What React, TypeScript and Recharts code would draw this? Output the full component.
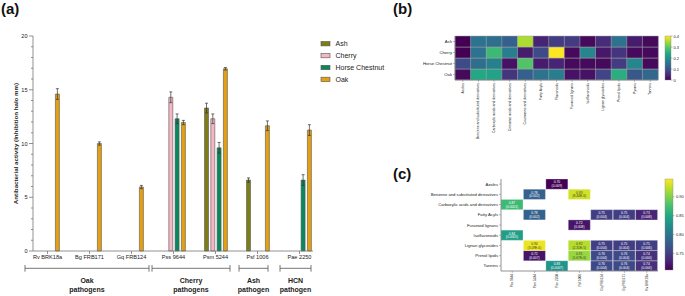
import React from 'react';
import { BarChart, Bar, XAxis, YAxis, ErrorBar, Cell, LabelList } from 'recharts';

const FONT = '"Liberation Sans", Arial, Helvetica, sans-serif';
const AXIS = '#767676';
const INK = '#222222';

// ---------------- (a) antibacterial activity ----------------
const pathogens = ['Rv BRK18a', 'Bg FRB171', 'Gq FRB124', 'Pss 9644', 'Psm 5244', 'Psf 1006', 'Pae 2250'];
const ashActivity = [null, null, null, null, 13.3, 6.6, null];
const ashError = [null, null, null, null, 0.45, 0.2, null];
const cherryActivity = [null, null, null, 14.3, 12.3, null, null];
const cherryError = [null, null, null, 0.5, 0.45, null, null];
const horseChestnutActivity = [null, null, null, 12.3, 9.6, null, 6.6];
const horseChestnutError = [null, null, null, 0.45, 0.5, null, 0.5];
const oakActivity = [14.6, 10.0, 5.95, 11.95, 16.95, 11.65, 11.25];
const oakError = [0.5, 0.15, 0.15, 0.2, 0.12, 0.45, 0.5];
const activityTicks = [0, 1, 2, 3, 4, 5, 6, 7, 8, 9, 10, 11, 12, 13, 14, 15, 16, 17, 18, 19, 20];
const pathogenGroups = [
  { top: 'Oak', bottom: 'pathogens', x1: 25, x2: 149 },
  { top: 'Cherry', bottom: 'pathogens', x1: 152, x2: 230 },
  { top: 'Ash', bottom: 'pathogen', x1: 239, x2: 268 },
  { top: 'HCN', bottom: 'pathogen', x1: 280, x2: 311 },
];

const SPECIES_COLORS: Record<string, string> = {
  Ash: '#7d7d16',
  Cherry: '#f6b7c4',
  'Horse Chestnut': '#07895c',
  Oak: '#e3a012',
};

// ---------------- (b) relative abundance heatmap ----------------
const compoundClasses = [
  'Azoles',
  'Benzene and substituted derivatives',
  'Carboxylic acids and derivatives',
  'Cinnamic acids and derivatives',
  'Coumarins and derivatives',
  'Fatty Acyls',
  'Flavonoids',
  'Furanoid lignans',
  'Isoflavonoids',
  'Lignan glycosides',
  'Prenol lipids',
  'Pyrans',
  'Tannins',
];
const treeSpecies = ['Ash', 'Cherry', 'Horse Chestnut', 'Oak'];
const ashShare = [0.0, 0.15, 0.145, 0.12, 0.35, 0.04, 0.07, 0.07, 0.01, 0.05, 0.15, 0.03, 0.01];
const cherryShare = [0.0, 0.15, 0.27, 0.17, 0.03, 0.09, 0.4, 0.01, 0.18, 0.025, 0.06, 0.01, 0.01];
const horseChestnutShare = [0.09, 0.145, 0.175, 0.02, 0.29, 0.03, 0.04, 0.01, 0.01, 0.01, 0.07, 0.18, 0.01];
const oakShare = [0.01, 0.24, 0.23, 0.06, 0.12, 0.15, 0.17, 0.02, 0.02, 0.08, 0.25, 0.11, 0.135];
const shareTicks = [0, 0.1, 0.2, 0.3, 0.4];

// ---------------- (c) correlation heatmap ----------------
const strains = ['Pss 9644', 'Psm 5244', 'Pae 2250', 'Psf 1006', 'Gq FRB124', 'Bg FRB171', 'Rv BRK18a'];
const chemClasses = [
  'Azoles',
  'Benzene and substituted derivatives',
  'Carboxylic acids and derivatives',
  'Fatty Acyls',
  'Furanoid lignans',
  'Isoflavonoids',
  'Lignan glycosides',
  'Prenol lipids',
  'Tannins',
];
const azolesAuc = [null, null, 0.70, null, null, null, null];
const azolesP = [null, null, '0.009', null, null, null, null];
const benzeneAuc = [null, 0.78, null, 0.93, null, null, null];
const benzeneP = [null, '0.002', null, '8.44E-6', null, null, null];
const carboxylicAuc = [0.87, null, null, null, null, null, null];
const carboxylicP = ['0.0001', null, null, null, null, null, null];
const fattyAcylsAuc = [null, 0.78, null, null, 0.75, 0.75, 0.73];
const fattyAcylsP = [null, '0.002', null, null, '0.004', '0.004', '0.008'];
const furanoidAuc = [null, null, null, 0.72, null, null, null];
const furanoidP = [null, null, null, '0.008', null, null, null];
const isoflavonoidsAuc = [0.84, null, null, null, null, null, null];
const isoflavonoidsP = ['0.0005', null, null, null, null, null, null];
const lignanAuc = [null, 0.94, null, 0.92, 0.75, 0.75, 0.75];
const lignanP = [null, '3.09E-6', null, '2.31E-5', '0.004', '0.004', '0.006'];
const prenolAuc = [null, 0.72, null, 0.91, 0.76, 0.76, 0.74];
const prenolP = [null, '0.007', null, '5.67E-6', '0.004', '0.004', '0.004'];
const tanninsAuc = [null, null, 0.83, null, 0.76, 0.76, 0.74];
const tanninsP = [null, null, '0.0007', null, '0.004', '0.004', '0.004'];
const aucTicks = [0.75, 0.8, 0.85, 0.9];
const AUC_MIN = 0.706;
const AUC_MAX = 0.947;

// ---------------- helpers ----------------
const VIRIDIS = ['#440154', '#482475', '#414487', '#355f8d', '#2a788e', '#21918c', '#22a884', '#44bf70', '#7ad151', '#bddf26', '#fde725'];
function hexToRgb(h: string) {
  return [parseInt(h.slice(1, 3), 16), parseInt(h.slice(3, 5), 16), parseInt(h.slice(5, 7), 16)];
}
function viridis(t: number) {
  const c = Math.max(0, Math.min(1, t));
  const s = c * 10;
  const i = Math.min(9, Math.floor(s));
  const f = s - i;
  const a = hexToRgb(VIRIDIS[i]);
  const b = hexToRgb(VIRIDIS[i + 1]);
  const m = a.map((v, k) => Math.round(v + (b[k] - v) * f));
  return `rgb(${m[0]},${m[1]},${m[2]})`;
}

const activityRows = pathogens.map((name, i) => ({
  name,
  Ash: ashActivity[i],
  ashErr: ashError[i],
  Cherry: cherryActivity[i],
  cherryErr: cherryError[i],
  'Horse Chestnut': horseChestnutActivity[i],
  hcErr: horseChestnutError[i],
  Oak: oakActivity[i],
  oakErr: oakError[i],
}));

const shareBySpecies: Record<string, number[]> = {
  Ash: ashShare,
  Cherry: cherryShare,
  'Horse Chestnut': horseChestnutShare,
  Oak: oakShare,
};
const classRows = compoundClasses.map((name) => {
  const row: any = { name };
  treeSpecies.forEach((s) => (row[s] = 1));
  return row;
});

const aucByClass: Record<string, (number | null)[]> = {
  Azoles: azolesAuc,
  'Benzene and substituted derivatives': benzeneAuc,
  'Carboxylic acids and derivatives': carboxylicAuc,
  'Fatty Acyls': fattyAcylsAuc,
  'Furanoid lignans': furanoidAuc,
  Isoflavonoids: isoflavonoidsAuc,
  'Lignan glycosides': lignanAuc,
  'Prenol lipids': prenolAuc,
  Tannins: tanninsAuc,
};
const pByClass: Record<string, (string | null)[]> = {
  Azoles: azolesP,
  'Benzene and substituted derivatives': benzeneP,
  'Carboxylic acids and derivatives': carboxylicP,
  'Fatty Acyls': fattyAcylsP,
  'Furanoid lignans': furanoidP,
  Isoflavonoids: isoflavonoidsP,
  'Lignan glycosides': lignanP,
  'Prenol lipids': prenolP,
  Tannins: tanninsP,
};
const strainRows = strains.map((name, j) => {
  const row: any = { name };
  chemClasses.forEach((c) => {
    row[c] = 1;
    const v = aucByClass[c][j];
    row['lbl_' + c] = v == null ? '' : `${v.toFixed(2)}|${pByClass[c][j]}`;
  });
  return row;
});

// ---------------- small renderers ----------------
const ActivityTick = (props: any) => {
  const { x, y, payload } = props;
  const major = payload.value % 5 === 0;
  return (
    <g>
      <line x1={x - (major ? 4 : 2)} x2={x} y1={y} y2={y} stroke={AXIS} strokeWidth={0.8} />
      {major && (
        <text x={x - 5.5} y={y} textAnchor="end" dominantBaseline="central" fontSize={5.6} fill={INK} fontFamily={FONT}>
          {payload.value}
        </text>
      )}
    </g>
  );
};

const RotatedTick = (props: any) => {
  const { x, y, payload, size } = props;
  return (
    <text
      x={x}
      y={y}
      transform={`rotate(-90 ${x} ${y})`}
      textAnchor="end"
      dominantBaseline="central"
      fontSize={size}
      fill={INK}
      fontFamily={FONT}
    >
      {payload.value}
    </text>
  );
};

const RowTick = (props: any) => {
  const { x, y, payload, size, names, count } = props;
  const label = names[count - 1 - Math.floor(payload.value)];
  return (
    <text x={x} y={y} textAnchor="end" dominantBaseline="central" fontSize={size} fill={INK} fontFamily={FONT}>
      {label}
    </text>
  );
};

const renderAucLabel = (p: any) => {
  const value = p.value;
  if (!value) return null;
  const box = p.viewBox && p.viewBox.width != null ? p.viewBox : p;
  const { x, y, width, height } = box;
  const [auc, pv] = String(value).split('|');
  const dark = parseFloat(auc) > 0.885;
  const cx = x + width / 2;
  const cy = y + height / 2;
  const fill = dark ? '#3a3a3a' : '#ffffff';
  return (
    <g>
      <text x={cx} y={cy - 1.7} textAnchor="middle" dominantBaseline="central" fontSize={3.3} fill={fill} fontFamily={FONT}>
        {auc}
      </text>
      <text x={cx} y={cy + 2.1} textAnchor="middle" dominantBaseline="central" fontSize={3.3} fill={fill} fontFamily={FONT}>
        ({pv})
      </text>
    </g>
  );
};

const axisLine = { stroke: AXIS, strokeWidth: 0.8 };

export default function App() {
  return (
    <div
      style={{
        position: 'absolute',
        left: 0,
        top: 0,
        width: 685,
        height: 296,
        background: '#ffffff',
        overflow: 'hidden',
        fontFamily: FONT,
      }}
    >
      {/* (a) */}
      <div style={{ position: 'absolute', left: 0, top: 0 }}>
        <BarChart
          width={395}
          height={296}
          data={activityRows}
          margin={{ top: 36, right: 82, bottom: 25, left: 0 }}
          barGap={2.3}
        >
          <XAxis
            dataKey="name"
            interval={0}
            height={20}
            tickSize={3}
            tickMargin={1.5}
            padding={{ left: -6.5, right: -7.5 }}
            tick={{ fontSize: 5.6, fill: INK, fontFamily: FONT }}
            axisLine={axisLine}
            tickLine={axisLine}
          />
          <XAxis xAxisId="top" dataKey="name" orientation="top" height={0} tick={false} tickLine={false} axisLine={axisLine} />
          <YAxis
            type="number"
            domain={[0, 20]}
            ticks={activityTicks}
            interval={0}
            width={33}
            tickSize={0}
            tickMargin={0}
            tickLine={false}
            tick={ActivityTick}
            axisLine={axisLine}
            label={{
              content: (lp: any) => {
                const vb = lp.viewBox || { y: 36, height: 215 };
                const cy = vb.y + vb.height / 2;
                return (
                  <text
                    x={15.5}
                    y={cy}
                    transform={`rotate(-90 15.5 ${cy})`}
                    textAnchor="middle"
                    dominantBaseline="central"
                    fontSize={6.2}
                    fontWeight="bold"
                    fill={INK}
                    fontFamily={FONT}
                  >
                    Antibacterial activity (Inhibition halo mm)
                  </text>
                );
              },
            }}
          />
          <YAxis yAxisId="right" orientation="right" type="number" domain={[0, 1]} width={0} tick={false} tickLine={false} axisLine={axisLine} />
          <Bar dataKey="Ash" name="Ash" fill={SPECIES_COLORS.Ash} stroke="#555" strokeWidth={0.6} barSize={4} isAnimationActive={false}>
            <ErrorBar dataKey="ashErr" width={1.5} stroke="#333" strokeWidth={0.7} direction="y" />
          </Bar>
          <Bar dataKey="Cherry" name="Cherry" fill={SPECIES_COLORS.Cherry} stroke="#555" strokeWidth={0.6} barSize={4} isAnimationActive={false}>
            <ErrorBar dataKey="cherryErr" width={1.5} stroke="#333" strokeWidth={0.7} direction="y" />
          </Bar>
          <Bar
            dataKey="Horse Chestnut"
            name="Horse Chestnut"
            fill={SPECIES_COLORS['Horse Chestnut']}
            stroke="#555"
            strokeWidth={0.6}
            barSize={4}
            isAnimationActive={false}
          >
            <ErrorBar dataKey="hcErr" width={1.5} stroke="#333" strokeWidth={0.7} direction="y" />
          </Bar>
          <Bar dataKey="Oak" name="Oak" fill={SPECIES_COLORS.Oak} stroke="#555" strokeWidth={0.6} barSize={4} isAnimationActive={false}>
            <ErrorBar dataKey="oakErr" width={1.5} stroke="#333" strokeWidth={0.7} direction="y" />
          </Bar>
        </BarChart>
      </div>

      {/* (b) */}
      <div style={{ position: 'absolute', left: 385, top: 0 }}>
        <BarChart
          width={300}
          height={150}
          data={classRows}
          margin={{ top: 36, right: 27, bottom: 0, left: 0 }}
          barCategoryGap={0}
          barGap={0}
        >
          <XAxis
            dataKey="name"
            interval={0}
            height={70}
            tickSize={2}
            tickMargin={1}
            tick={(tp: any) => <RotatedTick {...tp} size={3.5} />}
            axisLine={axisLine}
            tickLine={{ stroke: AXIS, strokeWidth: 0.5 }}
          />
          <XAxis xAxisId="top" dataKey="name" orientation="top" height={0} tick={false} tickLine={false} axisLine={axisLine} />
          <YAxis
            type="number"
            domain={[0, 4]}
            ticks={[0.5, 1.5, 2.5, 3.5]}
            interval={0}
            width={70}
            tickSize={2}
            tickMargin={1}
            tick={(tp: any) => <RowTick {...tp} size={4.2} names={treeSpecies} count={4} />}
            axisLine={axisLine}
            tickLine={{ stroke: AXIS, strokeWidth: 0.5 }}
          />
          <YAxis yAxisId="right" orientation="right" type="number" domain={[0, 1]} width={0} tick={false} tickLine={false} axisLine={axisLine} />
          {[...treeSpecies].reverse().map((sp) => (
            <Bar key={sp} dataKey={sp} stackId="h" isAnimationActive={false}>
              {compoundClasses.map((c, i) => (
                <Cell key={c} fill={viridis(shareBySpecies[sp][i] / 0.4)} stroke="#a5a5a5" strokeWidth={0.5} />
              ))}
            </Bar>
          ))}
        </BarChart>
      </div>

      {/* (c) */}
      <div style={{ position: 'absolute', left: 385, top: 150 }}>
        <BarChart
          width={300}
          height={146}
          data={strainRows}
          margin={{ top: 29, right: 27, bottom: 0, left: 0 }}
          barCategoryGap={0}
          barGap={0}
        >
          <XAxis
            dataKey="name"
            interval={0}
            height={25}
            tickSize={2}
            tickMargin={1}
            tick={(tp: any) => <RotatedTick {...tp} size={3.2} />}
            axisLine={axisLine}
            tickLine={{ stroke: AXIS, strokeWidth: 0.5 }}
          />
          <XAxis xAxisId="top" dataKey="name" orientation="top" height={0} tick={false} tickLine={false} axisLine={axisLine} />
          <YAxis
            type="number"
            domain={[0, 9]}
            ticks={[0.5, 1.5, 2.5, 3.5, 4.5, 5.5, 6.5, 7.5, 8.5]}
            interval={0}
            width={116}
            tickSize={2}
            tickMargin={1}
            tick={(tp: any) => <RowTick {...tp} size={4.2} names={chemClasses} count={9} />}
            axisLine={axisLine}
            tickLine={{ stroke: AXIS, strokeWidth: 0.5 }}
          />
          <YAxis yAxisId="right" orientation="right" type="number" domain={[0, 1]} width={0} tick={false} tickLine={false} axisLine={axisLine} />
          {[...chemClasses].reverse().map((cls) => (
            <Bar key={cls} dataKey={cls} stackId="c" isAnimationActive={false}>
              {strains.map((s, j) => {
                const v = aucByClass[cls][j];
                return v == null ? (
                  <Cell key={s} fill="none" stroke="none" />
                ) : (
                  <Cell key={s} fill={viridis((v - AUC_MIN) / (AUC_MAX - AUC_MIN))} stroke="rgba(255,255,255,0.55)" strokeWidth={0.5} />
                );
              })}
              <LabelList dataKey={'lbl_' + cls} content={renderAucLabel} />
            </Bar>
          ))}
        </BarChart>
      </div>

      {/* annotations: panel letters, legend, pathogen groups, colour bars */}
      <svg
        width={685}
        height={296}
        style={{ position: 'absolute', left: 0, top: 0, pointerEvents: 'none' }}
        fontFamily={FONT}
      >
        <defs>
          <linearGradient id="viridisGrad" x1="0" y1="1" x2="0" y2="0">
            {VIRIDIS.map((c, i) => (
              <stop key={i} offset={`${i * 10}%`} stopColor={c} />
            ))}
          </linearGradient>
        </defs>
        <text x={1} y={14} fontSize={15} fontWeight="bold" fill="#111">(a)</text>
        <text x={393} y={14} fontSize={15} fontWeight="bold" fill="#111">(b)</text>
        <text x={393} y={179} fontSize={15} fontWeight="bold" fill="#111">(c)</text>

        {/* legend of panel (a) */}
        {treeSpecies.map((sp, i) => {
          const cy = 43.7 + i * 11.9;
          return (
            <g key={sp}>
              <rect x={321} y={cy - 2.2} width={9} height={4.4} fill={SPECIES_COLORS[sp]} stroke="#555" strokeWidth={0.6} />
              <text x={335.5} y={cy} dominantBaseline="central" fontSize={7} fill={INK}>
                {sp}
              </text>
            </g>
          );
        })}

        {pathogenGroups.map((g) => (
          <g key={g.top}>
            <line x1={g.x1} x2={g.x2} y1={268.3} y2={268.3} stroke="#555" strokeWidth={0.8} />
            <line x1={g.x1} x2={g.x1} y1={265} y2={271.7} stroke="#555" strokeWidth={0.8} />
            <line x1={g.x2} x2={g.x2} y1={265} y2={271.7} stroke="#555" strokeWidth={0.8} />
            <text x={(g.x1 + g.x2) / 2} y={283} textAnchor="middle" fontSize={7} fontWeight="bold" fill={INK}>
              {g.top}
            </text>
            <text x={(g.x1 + g.x2) / 2} y={291.5} textAnchor="middle" fontSize={7} fontWeight="bold" fill={INK}>
              {g.bottom}
            </text>
          </g>
        ))}

        {/* colour bar (b) */}
        <rect x={665} y={36} width={6} height={44} fill="url(#viridisGrad)" stroke="#888" strokeWidth={0.4} />
        {shareTicks.map((t) => {
          const y = 80 - (t / 0.4) * 44;
          return (
            <g key={t}>
              <line x1={671} x2={672.5} y1={y} y2={y} stroke="#555" strokeWidth={0.4} />
              <text x={673.5} y={y} dominantBaseline="central" fontSize={4} fill={INK}>
                {t === 0 ? '0' : String(t)}
              </text>
            </g>
          );
        })}

        {/* colour bar (c) */}
        <rect x={665} y={179} width={8} height={91} fill="url(#viridisGrad)" stroke="#888" strokeWidth={0.4} />
        {aucTicks.map((t) => {
          const y = 270 - ((t - AUC_MIN) / (AUC_MAX - AUC_MIN)) * 91;
          return (
            <g key={t}>
              <line x1={673} x2={674.5} y1={y} y2={y} stroke="#555" strokeWidth={0.4} />
              <text x={676} y={y} dominantBaseline="central" fontSize={4} fill={INK}>
                {t.toFixed(2)}
              </text>
            </g>
          );
        })}
      </svg>
    </div>
  );
}
